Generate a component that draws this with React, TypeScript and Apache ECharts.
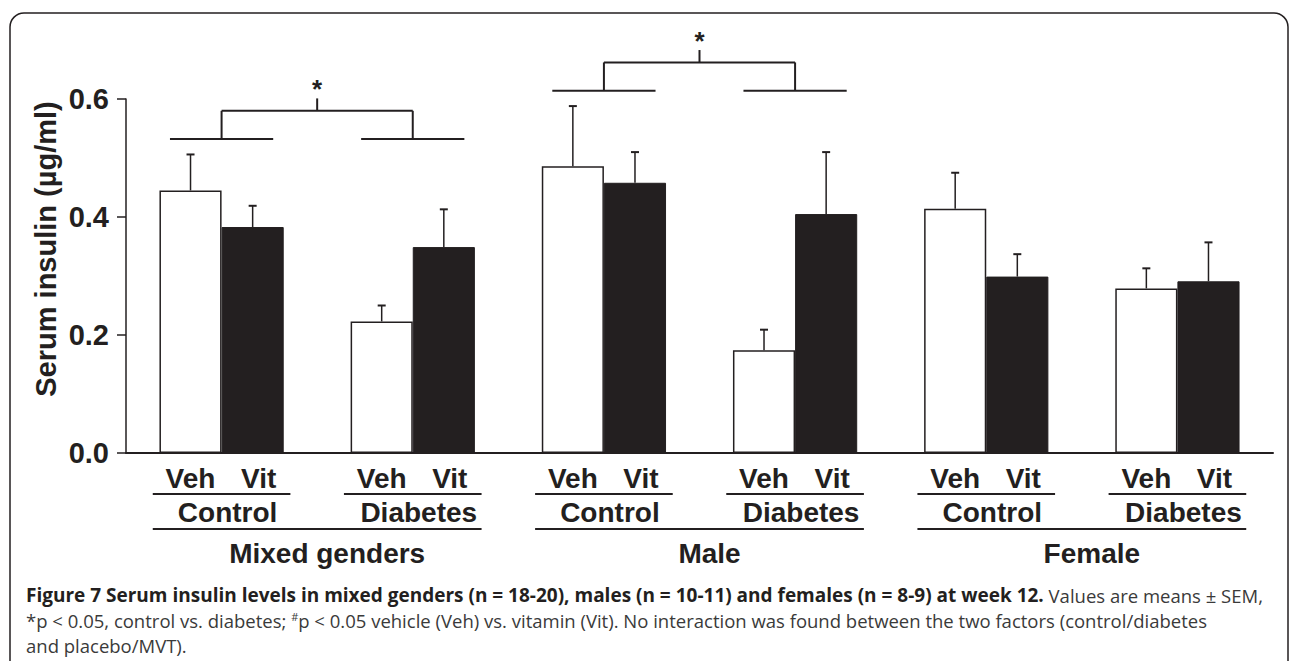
import React, { useEffect, useRef } from "react";
import * as echarts from "echarts";

// ---- data ----
const genders = ["Mixed genders", "Male", "Female"];
const conditions = ["Control", "Diabetes", "Control", "Diabetes", "Control", "Diabetes"];
const categoryGender = [0, 0, 1, 1, 2, 2];
const treatments = ["Veh", "Vit"];
const vehMean = [0.445, 0.223, 0.486, 0.174, 0.414, 0.279];
const vehUpper = [0.506, 0.25, 0.588, 0.209, 0.475, 0.313];
const vitMean = [0.383, 0.349, 0.458, 0.405, 0.299, 0.291];
const vitUpper = [0.419, 0.413, 0.51, 0.51, 0.337, 0.357];
const yTicks = [0, 0.2, 0.4, 0.6];
const significantGenders = ["Mixed genders", "Male"];
const yTitle = "Serum insulin (µg/ml)";
const captionBold =
  "Figure 7 Serum insulin levels in mixed genders (n = 18-20), males (n = 10-11) and females (n = 8-9) at week 12.";
const captionRest1 = " Values are means ± SEM,";
const captionLine2a = "*p < 0.05, control vs. diabetes; ";
const captionLine2b =
  "p < 0.05 vehicle (Veh) vs. vitamin (Vit). No interaction was found between the two factors (control/diabetes";
const captionLine3 = "and placebo/MVT).";

const INK = "#231f20";
const FONT = "'Liberation Sans', Arial, Helvetica, sans-serif";
const CAPFONT = "'Open Sans', 'Noto Sans', sans-serif";
const BAR_FRACTION = 0.65;

export default function App() {
  const ref = useRef<HTMLDivElement>(null);

  useEffect(() => {
    if (!ref.current) return;
    const chart = echarts.init(ref.current, undefined, { renderer: "svg" });

    const cats = conditions.map((c, i) => `${genders[categoryGender[i]]} ${c}`);

    const errData: number[][] = [];
    vehMean.forEach((m, i) => errData.push([i, m, vehUpper[i], -1]));
    vitMean.forEach((m, i) => errData.push([i, m, vitUpper[i], 1]));

    const genderData = genders.map((g, gi) => {
      const idx = categoryGender.map((v, i) => (v === gi ? i : -1)).filter((v) => v >= 0);
      return [idx[0], idx[idx.length - 1], gi];
    });

    const line = (x1: number, y1: number, x2: number, y2: number, w = 1.8) => ({
      type: "line",
      shape: { x1, y1, x2, y2 },
      style: { stroke: INK, lineWidth: w },
    });
    const text = (x: number, y: number, t: string, size = 28) => ({
      type: "text",
      x,
      y,
      style: {
        text: t,
        fill: INK,
        fontSize: size,
        fontWeight: "bold",
        fontFamily: FONT,
        align: "center",
        verticalAlign: "middle",
      },
    });

    const capN = { fontFamily: CAPFONT, fontSize: 18.5, fill: "#3a3a3a" };

    const option: any = {
      animation: false,
      backgroundColor: "#fff",
      grid: { left: 126, right: 20, top: 99, bottom: 208, containLabel: false },
      xAxis: {
        type: "category",
        data: cats,
        axisLine: { show: true, lineStyle: { color: INK, width: 2 } },
        axisTick: { show: false },
        axisLabel: { show: false },
        splitLine: { show: false },
      },
      yAxis: {
        type: "value",
        min: yTicks[0],
        max: yTicks[yTicks.length - 1],
        interval: 0.2,
        axisLine: { show: true, lineStyle: { color: INK, width: 1.5 } },
        axisTick: { show: true, length: 9, lineStyle: { color: INK, width: 1.5 } },
        splitLine: { show: false },
        axisLabel: {
          color: INK,
          fontSize: 29,
          fontWeight: "bold",
          fontFamily: FONT,
          margin: 17,
          formatter: (v: number) => v.toFixed(1),
        },
      },
      series: [
        {
          name: treatments[0],
          type: "bar",
          data: vehMean,
          barGap: "0%",
          barCategoryGap: `${Math.round((1 - BAR_FRACTION) * 100)}%`,
          itemStyle: { color: "#ffffff", borderColor: INK, borderWidth: 1.5 },
        },
        {
          name: treatments[1],
          type: "bar",
          data: vitMean,
          barGap: "0%",
          barCategoryGap: `${Math.round((1 - BAR_FRACTION) * 100)}%`,
          itemStyle: { color: INK, borderColor: INK, borderWidth: 1 },
        },
        {
          type: "custom",
          z: 5,
          clip: false,
          data: errData,
          encode: { x: 0, y: 1 },
          renderItem: (params: any, api: any) => {
            const i = api.value(0);
            const mean = api.value(1);
            const up = api.value(2);
            const side = api.value(3);
            const band = api.size([1, 0])[0];
            const barW = (band * BAR_FRACTION) / 2;
            const c = api.coord([i, mean]);
            const x = c[0] + (side * barW) / 2;
            const yTop = api.coord([i, up])[1];
            return {
              type: "group",
              children: [line(x, c[1], x, yTop, 1.5), line(x - 4, yTop, x + 4, yTop, 2)],
            };
          },
        },
        {
          // per-category labels (Veh / Vit, underline, condition)
          type: "custom",
          z: 5,
          clip: false,
          silent: true,
          data: conditions.map((c, i) => [i, 0]),
          encode: { x: 0, y: 1 },
          renderItem: (params: any, api: any) => {
            const i = api.value(0);
            const band = api.size([1, 0])[0];
            const barW = (band * BAR_FRACTION) / 2;
            const c = api.coord([i, 0]);
            const y0 = c[1];
            const half = band * 0.36;
            return {
              type: "group",
              children: [
                text(c[0] - barW / 2, y0 + 25, treatments[0]),
                text(c[0] + barW / 2 + 6, y0 + 25, treatments[1]),
                line(c[0] - half, y0 + 41, c[0] + half, y0 + 41, 2),
                text(c[0] + 6, y0 + 59, conditions[i]),
              ],
            };
          },
        },
        {
          // gender labels and significance brackets
          type: "custom",
          z: 5,
          clip: false,
          silent: true,
          data: genderData,
          encode: { x: 0, y: 2 },
          renderItem: (params: any, api: any) => {
            const a = api.value(0);
            const b = api.value(1);
            const gi = api.value(2);
            const band = api.size([1, 0])[0];
            const ca = api.coord([a, 0]);
            const cb = api.coord([b, 0]);
            const y0 = ca[1];
            const half = band * 0.36;
            const children: any[] = [
              line(ca[0] - half, y0 + 76, cb[0] + half, y0 + 76, 2),
              text((ca[0] + cb[0]) / 2 + 10, y0 + 100, genders[gi]),
            ];
            if (significantGenders.includes(genders[gi])) {
              const maxUp = Math.max(vehUpper[a], vitUpper[a], vehUpper[b], vitUpper[b]);
              const yShort = maxUp + 0.026;
              const yBr = yShort + 0.048;
              const yTick = yBr + 0.021;
              const yStar = yBr + 0.045;
              const sh = band * 0.27;
              const ps = api.coord([a, yShort])[1];
              const pb = api.coord([a, yBr])[1];
              const pt = api.coord([a, yTick])[1];
              const pst = api.coord([a, yStar])[1];
              const mid = (ca[0] + cb[0]) / 2;
              children.push(
                line(ca[0] - sh, ps, ca[0] + sh, ps, 2),
                line(cb[0] - sh, ps, cb[0] + sh, ps, 2),
                line(ca[0], ps, ca[0], pb, 2),
                line(cb[0], ps, cb[0], pb, 2),
                line(ca[0], pb, cb[0], pb, 2),
                line(mid, pb, mid, pt, 2),
                text(mid, pst + 5, "*", 26)
              );
            }
            return { type: "group", children };
          },
        },
      ],
      graphic: [
        {
          type: "rect",
          shape: { x: 10, y: 13, width: 1278, height: 700, r: 14 },
          style: { fill: "none", stroke: INK, lineWidth: 1.5 },
          silent: true,
        },
        {
          type: "text",
          x: 46,
          y: 249,
          rotation: Math.PI / 2,
          style: {
            text: yTitle,
            fill: INK,
            fontSize: 29,
            fontWeight: "bold",
            fontFamily: FONT,
            align: "center",
            verticalAlign: "middle",
          },
        },
        {
          type: "text",
          x: 26,
          y: 595,
          style: {
            text: `{b|${captionBold}}{n|${captionRest1}}`,
            verticalAlign: "middle",
            align: "left",
            rich: {
              b: { fontFamily: CAPFONT, fontSize: 19, fontWeight: "bold", fill: INK },
              n: capN,
            },
          },
        },
        {
          type: "text",
          x: 26,
          y: 620,
          style: {
            text: `{n|${captionLine2a}}{s|#}{n|${captionLine2b}}`,
            verticalAlign: "middle",
            align: "left",
            rich: {
              n: capN,
              s: { fontFamily: CAPFONT, fontSize: 11, fill: "#3a3a3a", verticalAlign: "top" },
            },
          },
        },
        {
          type: "text",
          x: 26,
          y: 645,
          style: {
            text: `{n|${captionLine3}}`,
            verticalAlign: "middle",
            align: "left",
            rich: { n: capN },
          },
        },
      ],
    };

    chart.setOption(option);
    return () => chart.dispose();
  }, []);

  return (
    <div
      ref={ref}
      style={{ position: "fixed", left: 0, top: 0, width: 1293, height: 661, background: "#fff" }}
    />
  );
}
